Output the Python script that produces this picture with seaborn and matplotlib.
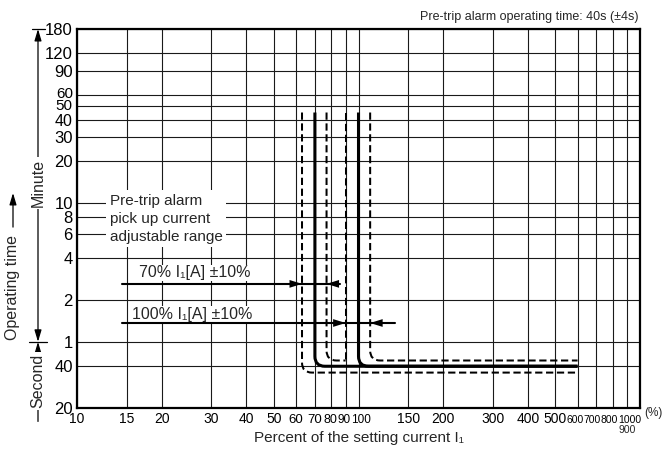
import numpy as np
import pandas as pd
import matplotlib
matplotlib.use("Agg")
import matplotlib.pyplot as plt
import matplotlib.transforms as mtransforms
from matplotlib.path import Path
from matplotlib.patches import PathPatch
from matplotlib.ticker import NullLocator
import seaborn as sns

# ---------------- data ----------------
x_ticks = [10, 15, 20, 30, 40, 50, 60, 70, 80, 90, 100, 150, 200, 300,
           400, 500, 600, 700, 800, 900, 1000]
x_labels = ["10", "15", "20", "30", "40", "50", "60", "70", "80", "90", "100",
            "150", "200", "300", "400", "500", "600", "700", "800", "", "1000"]
y_ticks_s = [20, 40, 60, 120, 240, 360, 480, 600, 1200, 1800, 2400, 3000,
             3600, 5400, 7200, 10800]
y_labels = ["20", "40", "1", "2", "4", "6", "8", "10", "20", "30", "40", "50",
            "60", "90", "120", "180"]

curve_pct = [63, 70, 77, 90, 100, 110]          # pick-up current (%)
curve_dashed = [True, False, True, True, False, True]
curve_time_s = [36, 40, 44, 44, 40, 44]         # operating time (s)
curve_end_pct = [600, 600, 90, 90, 600, 600]
curve_top_s = 2700

range_time_s = [157, 82]
range_start = [14.4, 14.4]
range_end = [86, 135]
range_lo = [63, 90]
range_hi = [77, 110]
range_labels = ["70% I\u2081[A] \u00b110%", "100% I\u2081[A] \u00b110%"]

# ---------------- style ----------------
sns.set_theme(style="white")
plt.rcParams["font.family"] = ["Liberation Sans", "DejaVu Sans"]

fig = plt.figure(figsize=(6.65, 4.53), dpi=100)
ax = fig.add_axes([77 / 665, 1 - 408 / 453, 563 / 665, 379 / 453])

# ---------------- curves ----------------
for p, dashed, t, pend in zip(curve_pct, curve_dashed, curve_time_s, curve_end_pct):
    if pend == p:
        verts = [(p, curve_top_s), (p, t)]
        codes = [Path.MOVETO, Path.LINETO]
    else:
        verts = [(p, curve_top_s), (p, t * 1.18), (p, t), (p * 1.085, t), (pend, t)]
        codes = [Path.MOVETO, Path.LINETO, Path.CURVE3, Path.CURVE3, Path.LINETO]
    if dashed:
        patch = PathPatch(Path(verts, codes), fill=False, lw=1.45, color="black",
                          linestyle=(0, (3.6, 1.8)), zorder=4, capstyle="butt")
    else:
        patch = PathPatch(Path(verts, codes), fill=False, lw=2.2, color="black",
                          zorder=4)
    ax.add_patch(patch)

# ---------------- range arrows ----------------
arrow_df = pd.DataFrame({
    "pct": [v for pair in zip(range_start, range_end) for v in pair],
    "time": [v for t in range_time_s for v in (t, t)],
    "grp": [g for g in range(len(range_time_s)) for _ in range(2)],
})
sns.lineplot(data=arrow_df, x="pct", y="time", units="grp", estimator=None,
             color="black", lw=1.5, ax=ax, legend=False, zorder=5)
head = dict(arrowstyle="-|>,head_length=0.45,head_width=0.14", color="black",
            lw=0, shrinkA=0, shrinkB=0, mutation_scale=20)
for t, lo, hi in zip(range_time_s, range_lo, range_hi):
    ax.annotate("", xy=(lo, t), xytext=(lo / 1.1, t), arrowprops=head, zorder=6)
    ax.annotate("", xy=(hi, t), xytext=(hi * 1.1, t), arrowprops=head, zorder=6)

# ---------------- axes ----------------
ax.set_xscale("log")
ax.set_yscale("log")
ax.set_xlim(10, 1000)
ax.set_ylim(20, 10800)
ax.set_xticks(x_ticks)
ax.set_xticklabels(x_labels, fontsize=10)
ax.set_yticks(y_ticks_s)
ax.set_yticklabels(y_labels, fontsize=12)
ax.xaxis.set_minor_locator(NullLocator())
ax.yaxis.set_minor_locator(NullLocator())
ax.tick_params(length=0, colors="black")
ax.tick_params(axis="x", pad=10.5)
ax.tick_params(axis="y", pad=3)
ax.grid(True, which="major", color="#1a1a1a", lw=0.8)
ax.set_axisbelow(True)
ax.set_ylabel("")
ax.set_xlabel("Percent of the setting current I\u2081", fontsize=11, labelpad=4)
for s in ax.spines.values():
    s.set_color("black")
    s.set_linewidth(1.6)


def shift(lab, dx=0, dy=0):
    lab.set_transform(lab.get_transform() + mtransforms.ScaledTranslation(
        dx / 100, dy / 100, fig.dpi_scale_trans))


# crowded x tick labels: smaller font and slight shifts, all on one baseline
shift_px = {"80": -1, "90": -2, "100": 2, "600": -2.5, "700": -4.3,
            "800": -3.6, "1000": 1}
small = {"60": 9.5, "70": 9.5, "80": 9, "90": 8.5, "100": 8.5,
         "600": 7.5, "700": 7.5, "800": 7.5, "1000": 7.5}
for tick in ax.xaxis.get_major_ticks():
    lab = tick.label1
    txt = lab.get_text()
    lab.set_verticalalignment("baseline")
    if txt in small:
        lab.set_fontsize(small[txt])
    if txt == "1000":
        lab.set_horizontalalignment("right")
    if shift_px.get(txt, 0):
        shift(lab, dx=shift_px[txt])

# crowded y tick labels
for tick in ax.yaxis.get_major_ticks():
    lab = tick.label1
    if tick.get_loc() == 3600:
        lab.set_fontsize(11)
        shift(lab, dy=3)
    elif tick.get_loc() == 3000:
        lab.set_fontsize(11)
        shift(lab, dy=1.5)
    elif tick.get_loc() == 2400:
        lab.set_fontsize(11.5)

xb = mtransforms.blended_transform_factory(ax.transData, ax.transAxes)
ax.text(900, -0.066, "900", transform=xb, ha="center", va="baseline", fontsize=7.5)
ax.text(1.008, -0.021, "(%)", transform=ax.transAxes, ha="left", va="baseline",
        fontsize=8.5)

# ---------------- texts in the plot ----------------
ax.text(26.3, range_time_s[0] * 1.06, range_labels[0], ha="center", va="bottom",
        fontsize=11.5, zorder=3,
        bbox=dict(facecolor="white", edgecolor="none", pad=0.5))
ax.text(25.6, range_time_s[1] * 1.015, range_labels[1], ha="center", va="bottom",
        fontsize=11.5, zorder=3,
        bbox=dict(facecolor="white", edgecolor="none", pad=0.5))

ax.text(13.1, 700, "Pre-trip alarm\npick up current\nadjustable range",
        ha="left", va="top", fontsize=11, linespacing=1.35, zorder=3,
        bbox=dict(facecolor="white", edgecolor="none", pad=2.5))

ax.text(0.997, 1.015, "Pre-trip alarm operating time: 40s (\u00b14s)",
        transform=ax.transAxes, ha="right", va="bottom", fontsize=9)

# ---------------- left brackets ----------------
yb = mtransforms.blended_transform_factory(ax.transAxes, ax.transData)
xm = (38 - 77) / 563
xo = (13 - 77) / 563
both = dict(arrowstyle="<|-|>,head_length=0.5,head_width=0.15", color="black",
            lw=0.9, shrinkA=0, shrinkB=0, mutation_scale=14)
one = dict(arrowstyle="-|>,head_length=0.5,head_width=0.15", color="black",
           lw=0.9, shrinkA=0, shrinkB=0, mutation_scale=14)
ax.annotate("", xy=(xm, 10800), xytext=(xm, 60), xycoords=yb, textcoords=yb,
            arrowprops=both, annotation_clip=False)
ax.annotate("", xy=(xm, 60), xytext=(xm, 16), xycoords=yb, textcoords=yb,
            arrowprops=one, annotation_clip=False)
for t, a, b in [(10800, 32, 45), (60, 29, 47)]:
    ax.plot([(a - 77) / 563, (b - 77) / 563], [t, t], transform=yb, color="black",
            lw=0.9, clip_on=False)
ax.text(xm, 838, "Minute", transform=yb, rotation=90, ha="center", va="center",
        fontsize=11.5, bbox=dict(facecolor="white", edgecolor="none", pad=1.5))
ax.text(xm, 31.3, "Second", transform=yb, rotation=90, ha="center", va="center",
        fontsize=11.5, bbox=dict(facecolor="white", edgecolor="none", pad=1.5))
ax.annotate("Operating time", xy=(xo, 710), xytext=(xo, 149), xycoords=yb,
            textcoords=yb, rotation=90, ha="center", va="center", fontsize=11.5,
            arrowprops=dict(one, shrinkA=3), annotation_clip=False)

fig.savefig("out.png", dpi=100)
